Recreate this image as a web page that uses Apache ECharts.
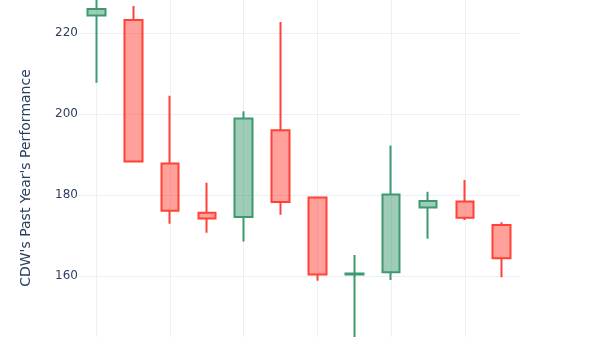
<!DOCTYPE html>
<html>
<head>
<meta charset="utf-8">
<script src="https://cdn.jsdelivr.net/npm/echarts@6/dist/echarts.min.js"></script>
<style>html,body{margin:0;padding:0;background:#fff;}#c{width:600px;height:337px;}</style>
</head>
<body>
<div id="c"></div>
<script>
const categories = ['2023-01','2023-02','2023-03','2023-04','2023-05','2023-06','2023-07','2023-08','2023-09','2023-10','2023-11','2023-12'];
const openValues  = [224.3, 223.2, 187.8, 175.6, 174.6, 196.0, 179.4, 160.4, 160.9, 176.9, 178.4, 172.6];
const closeValues = [225.9, 188.3, 176.1, 174.2, 198.9, 178.3, 160.4, 160.6, 180.1, 178.5, 174.4, 164.4];
const lowValues   = [207.7, 188.0, 172.9, 170.7, 168.5, 175.1, 158.8, 142.0, 159.0, 169.2, 173.8, 159.7];
const highValues  = [229.5, 226.7, 204.5, 183.0, 200.7, 222.7, 179.5, 165.2, 192.2, 180.8, 183.7, 173.3];
const yTitle = "CDW's Past Year's Performance";

const candleData = categories.map((c, i) => [openValues[i], closeValues[i], lowValues[i], highValues[i]]);

const chart = echarts.init(document.getElementById('c'), null, {renderer: 'canvas'});
chart.setOption({
  backgroundColor: '#ffffff',
  animation: false,
  textStyle: {fontFamily: 'DejaVu Sans'},
  grid: {left: 78, width: 442, top: -82, height: 520, containLabel: false, outerBoundsMode: 'none'},
  xAxis: {
    type: 'category',
    data: categories,
    boundaryGap: true,
    axisLine: {show: false},
    axisTick: {show: false},
    axisLabel: {show: false},
    splitLine: {show: true, interval: 1, alignWithLabel: true, lineStyle: {color: '#EBF0F8', width: 1}}
  },
  yAxis: {
    type: 'value',
    min: 120,
    max: 248.4,
    interval: 20,
    name: yTitle,
    nameLocation: 'middle',
    nameGap: 45,
    nameTextStyle: {color: '#2a3f5f', fontSize: 14, fontFamily: 'DejaVu Sans'},
    axisLine: {show: false},
    axisTick: {show: false},
    axisLabel: {color: '#2a3f5f', fontSize: 12, margin: 0, fontFamily: 'DejaVu Sans', showMaxLabel: false},
    splitLine: {show: true, lineStyle: {color: '#EBF0F8', width: 1}}
  },
  series: [{
    type: 'candlestick',
    data: candleData,
    barWidth: 18,
    itemStyle: {
      color: 'rgba(61,153,112,0.5)',
      color0: 'rgba(255,65,54,0.5)',
      borderColor: '#3D9970',
      borderColor0: '#FF4136',
      borderColorDoji: '#3D9970',
      borderWidth: 2
    }
  }]
});
</script>
</body>
</html>
